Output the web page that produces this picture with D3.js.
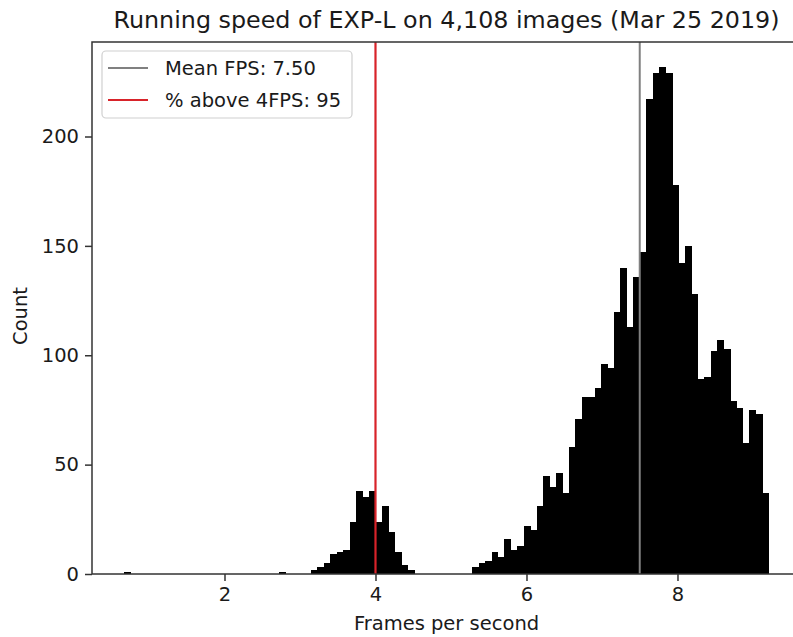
<!DOCTYPE html>
<meta charset="utf-8">
<title>Running speed histogram</title>
<style>
  body { margin: 0; background: #fff; }
  text { font-family: "DejaVu Sans", sans-serif; fill: #1a1a1a; }
  .axis path { display: none; }
  .axis line { stroke: #333; stroke-width: 1.5px; }
  .axis text { font-size: 19.5px; }
</style>
<body>
<script src="https://cdn.jsdelivr.net/npm/d3@7"></script>
<script>

// histogram of frames per second, 100 bins
var binStart = 0.669
var binWidth = 0.0854
var counts = [
  1, 0, 0, 0, 0, 0, 0, 0, 0, 0,
  0, 0, 0, 0, 0, 0, 0, 0, 0, 0,
  0, 0, 0, 0, 1, 0, 0, 0, 0, 2,
  3, 5, 9, 10, 11, 24, 38, 35, 38, 24,
  31, 19, 10, 4, 2, 0, 0, 0, 0, 0,
  0, 0, 0, 0, 3, 5, 6, 10, 8, 16,
  11, 13, 22, 20, 31, 45, 40, 46, 37, 58,
  71, 81, 81, 85, 96, 94, 120, 140, 113, 136,
  147, 217, 229, 232, 229, 178, 142, 150, 128, 89,
  90, 102, 107, 103, 79, 76, 60, 75, 73, 37
]
var xTicks = [2, 4, 6, 8]
var yTicks = [0, 50, 100, 150, 200]
var meanFps = 7.50
var threshold = 4
var legendItems = [
  {label: 'Mean FPS: 7.50', color: '#808080'},
  {label: '% above 4FPS: 95', color: '#d8232a'}
]
var title = 'Running speed of EXP-L on 4,108 images (Mar 25 2019)'

var W = 793, H = 637
var padL = 92, padR = 801, padT = 42, padB = 574

var svg = d3.select('body').append('svg')
  .attr('width', W).attr('height', H)

var x = d3.scaleLinear().domain([0.245, 9.636]).range([padL, padR])
var y = d3.scaleLinear().domain([0, 243.2]).range([padB, padT])

var bins = counts.map(function(c, i) {
  return {x0: binStart + i * binWidth, x1: binStart + (i + 1) * binWidth, n: c}
}).filter(function(d) { return d.n > 0 })

svg.append('g').attr('shape-rendering', 'crispEdges')
  .selectAll('rect').data(bins)
  .enter().append('rect')
  .attr('x', function(d) { return x(d.x0) })
  .attr('width', function(d) { return x(d.x1) - x(d.x0) + 0.5 })
  .attr('y', function(d) { return y(d.n) })
  .attr('height', function(d) { return y(0) - y(d.n) })
  .attr('fill', '#000')

// vertical markers
svg.append('line')
  .attr('x1', x(meanFps)).attr('x2', x(meanFps))
  .attr('y1', padT).attr('y2', padB)
  .attr('stroke', legendItems[0].color).attr('stroke-width', 2)
svg.append('line')
  .attr('x1', x(threshold)).attr('x2', x(threshold))
  .attr('y1', padT).attr('y2', padB)
  .attr('stroke', legendItems[1].color).attr('stroke-width', 2.2)

// axes
svg.append('g').attr('class', 'axis')
  .attr('transform', 'translate(0,' + padB + ')')
  .call(d3.axisBottom(x).tickValues(xTicks).tickSize(7).tickPadding(6).tickFormat(d3.format('d')))
svg.append('g').attr('class', 'axis')
  .attr('transform', 'translate(' + padL + ',0)')
  .call(d3.axisLeft(y).tickValues(yTicks).tickSize(7).tickPadding(6))

// frame
svg.append('rect')
  .attr('x', padL).attr('y', padT)
  .attr('width', padR - padL).attr('height', padB - padT)
  .attr('fill', 'none').attr('stroke', '#333').attr('stroke-width', 1.5)

svg.append('text')
  .attr('x', (padL + padR) / 2).attr('y', 28)
  .attr('text-anchor', 'middle').style('font-size', '23.8px')
  .text(title)

svg.append('text')
  .attr('x', (padL + padR) / 2).attr('y', 630)
  .attr('text-anchor', 'middle').style('font-size', '19.5px')
  .text('Frames per second')

svg.append('text')
  .attr('transform', 'translate(27,316) rotate(-90)')
  .attr('text-anchor', 'middle').style('font-size', '19.5px')
  .text('Count')

// legend
var lg = svg.append('g')
lg.append('rect')
  .attr('x', 102).attr('y', 51).attr('width', 250).attr('height', 67).attr('rx', 4)
  .attr('fill', '#fff').attr('fill-opacity', 0.85)
  .attr('stroke', '#d0d0d0').attr('stroke-width', 1.2)
var li = lg.selectAll('g.item').data(legendItems)
  .enter().append('g').attr('class', 'item')
  .attr('transform', function(d, i) { return 'translate(0,' + (68 + i * 32) + ')' })
li.append('line')
  .attr('x1', 108).attr('x2', 148)
  .attr('stroke', function(d) { return d.color }).attr('stroke-width', 2.2)
li.append('text')
  .attr('x', 165).attr('y', 7)
  .style('font-size', '19.5px')
  .text(function(d) { return d.label })

</script>
</body>
